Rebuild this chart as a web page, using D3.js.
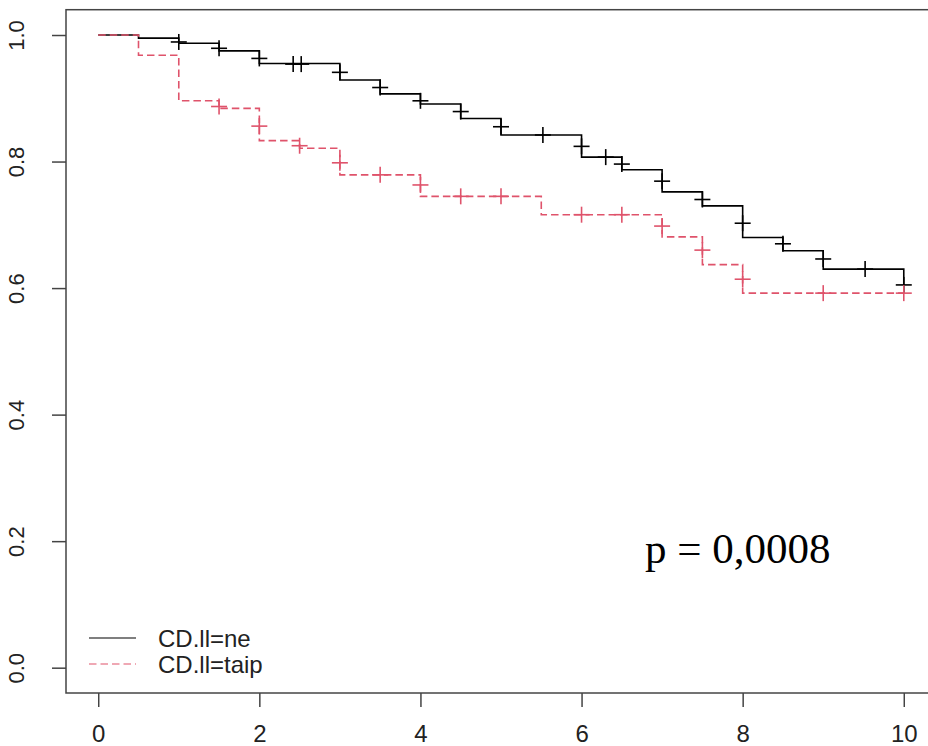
<!DOCTYPE html>
<html>
<head>
<meta charset="utf-8">
<script src="https://cdn.jsdelivr.net/npm/d3@7"></script>
<style>
    body { margin: 0; background: #fff; }
    svg { display: block; }
</style>
</head>
<body>
<div id="chartDiv"></div>
<script>
// step curve for CD.ll=ne (event times and survival after each step)
var neTimes = [0, 0.5, 1.0, 1.5, 2.0, 3.0, 3.5, 4.0, 4.5, 5.0, 6.0, 6.5, 7.0, 7.5, 8.0, 8.5, 9.0, 10.0];
var neSurv = [1.0, 0.995, 0.987, 0.975, 0.955, 0.929, 0.907, 0.891, 0.868, 0.842, 0.807, 0.787, 0.752, 0.730, 0.680, 0.659, 0.630, 0.605];
var neCensorTimes = [1.0, 1.5, 2.0, 2.42, 2.52, 3.0, 3.5, 4.0, 4.5, 5.0, 5.52, 6.0, 6.3, 6.5, 7.0, 7.5, 8.0, 8.5, 9.0, 9.52, 10.0];
var neCensorSurv = [0.989, 0.979, 0.963, 0.954, 0.954, 0.941, 0.917, 0.896, 0.879, 0.855, 0.842, 0.824, 0.807, 0.796, 0.769, 0.740, 0.7025, 0.670, 0.646, 0.630, 0.605];

// step curve for CD.ll=taip
var taipTimes = [0, 0.5, 1.0, 1.5, 2.0, 2.5, 3.0, 4.0, 5.5, 7.0, 7.5, 8.0];
var taipSurv = [1.0, 0.968, 0.896, 0.884, 0.833, 0.821, 0.779, 0.745, 0.716, 0.681, 0.637, 0.592];
var taipCensorTimes = [1.5, 2.0, 2.5, 3.0, 3.5, 4.0, 4.5, 5.0, 6.0, 6.5, 7.0, 7.5, 8.0, 9.0, 10.0];
var taipCensorSurv = [0.887, 0.856, 0.825, 0.798, 0.779, 0.763, 0.745, 0.745, 0.716, 0.716, 0.698, 0.660, 0.614, 0.592, 0.592];

var endTime = 10;
var xTicks = [0, 2, 4, 6, 8, 10];
var yTicks = [0, 0.2, 0.4, 0.6, 0.8, 1.0];
var legendLabels = ["CD.ll=ne", "CD.ll=taip"];
var pLabel = "p = 0,0008";

var width = 928, height = 746;
var colors = ["#000000", "#DF536B"];

var svg = d3.select("#chartDiv")
    .append("svg")
    .attr("width", width)
    .attr("height", height);

var x = d3.scaleLinear().domain([-0.4, 10.4]).range([66, 936]);
var y = d3.scaleLinear().domain([-0.04, 1.04]).range([693, 9.7]);

// axes
var xAxis = svg.append("g")
    .attr("transform", "translate(0," + y(-0.04) + ")")
    .call(d3.axisBottom(x).tickValues(xTicks).tickSize(14).tickFormat(d3.format("d")));
xAxis.select(".domain").remove();
xAxis.selectAll("line").attr("stroke", "#444").attr("stroke-width", 1.5);
xAxis.selectAll("text")
    .attr("y", 49)
    .attr("dy", 0)
    .attr("fill", "#222")
    .style("font-family", "'Liberation Sans', Arial, sans-serif")
    .style("font-size", "24px");

var yAxis = svg.append("g")
    .attr("transform", "translate(" + x(-0.4) + ",0)")
    .call(d3.axisLeft(y).tickValues(yTicks).tickSize(14).tickFormat(d3.format(".1f")));
yAxis.select(".domain").remove();
yAxis.selectAll("line").attr("stroke", "#444").attr("stroke-width", 1.5);
yAxis.selectAll("text")
    .attr("transform", "rotate(-90)")
    .attr("x", 0)
    .attr("y", -42)
    .attr("dy", 0)
    .attr("text-anchor", "middle")
    .attr("fill", "#222")
    .style("font-family", "'Liberation Sans', Arial, sans-serif")
    .style("font-size", "22px");

// plot box
svg.append("rect")
    .attr("x", x(-0.4))
    .attr("y", y(1.04))
    .attr("width", x(10.4) - x(-0.4))
    .attr("height", y(-0.04) - y(1.04))
    .attr("fill", "none")
    .attr("stroke", "#444")
    .attr("stroke-width", 1.5);

var stepLine = d3.line()
    .x(function (d) { return x(d[0]); })
    .y(function (d) { return y(d[1]); })
    .curve(d3.curveStepAfter);

function addCurve(times, surv, cTimes, cSurv, color, dash) {
    var pts = times.map(function (t, i) { return [t, surv[i]]; });
    if (times[times.length - 1] < endTime) {
        pts.push([endTime, surv[surv.length - 1]]);
    }
    svg.append("path")
        .datum(pts)
        .attr("d", stepLine)
        .attr("fill", "none")
        .attr("stroke", color)
        .attr("stroke-width", 1.6)
        .attr("stroke-dasharray", dash);

    var marks = cTimes.map(function (t, i) { return [t, cSurv[i]]; });
    var g = svg.append("g").selectAll("g")
        .data(marks).enter()
        .append("g")
        .attr("transform", function (d) {
            return "translate(" + x(d[0]) + "," + y(d[1]) + ")";
        });
    g.append("line")
        .attr("x1", -8).attr("x2", 8)
        .attr("stroke", color).attr("stroke-width", 1.6);
    g.append("line")
        .attr("y1", -8).attr("y2", 8)
        .attr("stroke", color).attr("stroke-width", 1.6);
}

addCurve(neTimes, neSurv, neCensorTimes, neCensorSurv, colors[0], null);
addCurve(taipTimes, taipSurv, taipCensorTimes, taipCensorSurv, colors[1], "7.5,4");

// legend
var legend = svg.append("g")
    .selectAll("g")
    .data(legendLabels).enter()
    .append("g")
    .attr("transform", function (d, i) { return "translate(0," + (638 + i * 26) + ")"; });
legend.append("line")
    .attr("x1", 89).attr("x2", 136)
    .attr("stroke", function (d, i) { return colors[i]; })
    .attr("stroke-width", 1.2)
    .attr("stroke-dasharray", function (d, i) { return i == 1 ? "7.5,4" : null; });
legend.append("text")
    .attr("x", 158)
    .attr("y", 9)
    .attr("fill", "#222")
    .style("font-family", "'Liberation Sans', Arial, sans-serif")
    .style("font-size", "24px")
    .text(function (d) { return d; });

svg.append("text")
    .attr("x", 645)
    .attr("y", 563)
    .style("font-family", "'Liberation Serif', 'Times New Roman', serif")
    .style("font-size", "43px")
    .attr("fill", "#000")
    .text(pLabel);
</script>
</body>
</html>
